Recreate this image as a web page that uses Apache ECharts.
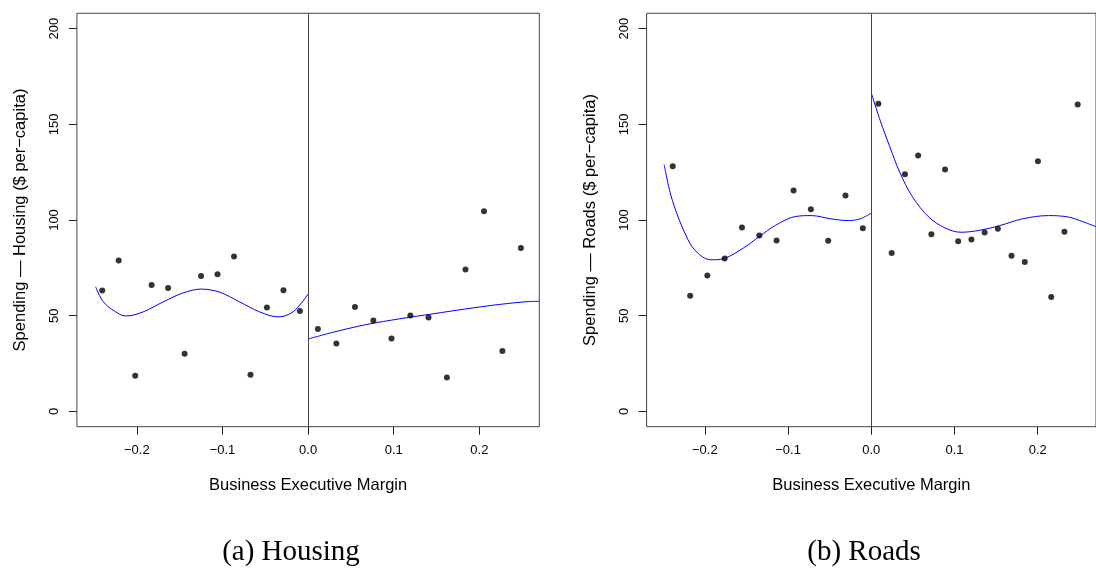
<!DOCTYPE html>
<html>
<head>
<meta charset="utf-8">
<script src="https://cdn.jsdelivr.net/npm/echarts@6/dist/echarts.min.js"></script>
<style>
  html, body { margin: 0; padding: 0; background: #fff; }
  #chart { width: 1096px; height: 573px; }
</style>
</head>
<body>
<div id="chart"></div>
<script>
// Tick positions shared by both panels
const xTicks = [-0.2, -0.1, 0.0, 0.1, 0.2];
const yTicks = [0, 50, 100, 150, 200];

// Housing: binned means on each side of the cutoff
const housingLeftX = [-0.2404, -0.2212, -0.2019, -0.1827, -0.1635, -0.1442, -0.1250, -0.1058, -0.0865, -0.0673, -0.0481, -0.0288, -0.0096];
const housingLeftY = [63.2, 78.8, 18.6, 66.1, 64.5, 30.1, 70.7, 71.7, 80.9, 19.1, 54.3, 63.3, 52.5];
const housingRightX = [0.0114, 0.0330, 0.0547, 0.0762, 0.0974, 0.1194, 0.1406, 0.1621, 0.1838, 0.2054, 0.2269, 0.2485];
const housingRightY = [43.0, 35.5, 54.5, 47.5, 38.1, 50.1, 49.1, 17.7, 74.1, 104.6, 31.5, 85.4];

// Housing: fitted polynomial on each side
const housingFitLeftX = [-0.2481, -0.2385, -0.2198, -0.2120, -0.1926, -0.1693, -0.1460, -0.1246, -0.1033, -0.0800, -0.0566, -0.0352, -0.0177, 0.0];
const housingFitLeftY = [65.1, 56.9, 50.7, 49.9, 52.0, 57.2, 61.9, 63.9, 62.3, 57.2, 52.0, 49.4, 52.0, 61.3];
const housingFitRightX = [0.0, 0.0296, 0.0685, 0.1073, 0.1462, 0.1850, 0.2239, 0.2589, 0.27];
const housingFitRightY = [37.8, 41.4, 45.4, 48.4, 51.0, 53.6, 55.9, 57.4, 57.5];

// Roads: binned means on each side of the cutoff
const roadsLeftX = [-0.2386, -0.2177, -0.1970, -0.1762, -0.1554, -0.1345, -0.1138, -0.0934, -0.0726, -0.0518, -0.0310, -0.0102];
const roadsLeftY = [128.1, 60.4, 71.0, 79.9, 96.1, 91.9, 89.3, 115.4, 105.6, 89.1, 112.8, 95.7];
const roadsRightX = [0.0085, 0.0245, 0.0404, 0.0563, 0.0722, 0.0886, 0.1044, 0.1203, 0.1362, 0.1521, 0.1685, 0.1844, 0.2002, 0.2162, 0.2321, 0.2480];
const roadsRightY = [160.8, 82.8, 123.9, 133.7, 92.6, 126.4, 88.9, 89.8, 93.5, 95.4, 81.3, 78.1, 130.7, 59.8, 93.8, 160.3];

// Roads: fitted polynomial on each side
const roadsFitLeftX = [-0.2489, -0.2391, -0.2204, -0.2080, -0.1925, -0.1769, -0.1536, -0.1341, -0.1147, -0.0914, -0.0719, -0.0485, -0.0272, -0.0135, 0.0];
const roadsFitLeftY = [129.0, 110.3, 89.8, 82.5, 79.2, 79.9, 85.4, 91.5, 97.3, 101.8, 102.3, 100.6, 99.7, 100.6, 103.6];
const roadsFitRightX = [0.0, 0.0106, 0.0223, 0.0340, 0.0495, 0.0690, 0.0883, 0.1078, 0.1312, 0.1545, 0.1817, 0.2128, 0.2362, 0.2549, 0.27];
const roadsFitRightY = [166.4, 152.1, 138.2, 125.1, 112.1, 101.6, 95.9, 93.6, 94.7, 97.1, 100.6, 102.3, 101.6, 99.0, 96.5];

const yTitles = ['Spending \u2014 Housing ($ per\u2212capita)', 'Spending \u2013\u2013 Roads ($ per\u2212capita)'];
const xTitle = 'Business Executive Margin';
const captions = ['(a) Housing', '(b) Roads'];

const pairs = (xs, ys) => xs.map((x, i) => [x, ys[i]]);
const sans = 'Liberation Sans, Arial, sans-serif';
const serif = '29px "Liberation Serif", "Times New Roman", serif';
const axisColor = '#222';

function grid(left) {
  return { left: left, top: 13.3, width: 462.4, height: 413.4, show: true,
           borderColor: '#444', borderWidth: 1, backgroundColor: 'transparent', containLabel: false };
}

function xAxis(idx) {
  return {
    type: 'value', gridIndex: idx, min: -0.27, max: 0.27, position: 'bottom',
    name: xTitle, nameLocation: 'middle', nameGap: 50,
    nameTextStyle: { fontFamily: sans, fontSize: 16.5, color: '#000' },
    axisLine: { show: false, onZero: false },
    splitLine: { show: false },
    axisTick: { show: true, inside: false, customValues: xTicks, length: 8, lineStyle: { color: axisColor } },
    axisLabel: { customValues: xTicks, margin: 17, fontFamily: sans, fontSize: 13, color: '#000',
                 formatter: v => v.toFixed(1).replace('-', '\u2212') }
  };
}

function yAxis(idx) {
  return {
    type: 'value', gridIndex: idx, min: -8, max: 208, position: 'left',
    name: yTitles[idx], nameLocation: 'middle', nameGap: 48, nameRotate: 90,
    nameTextStyle: { fontFamily: sans, fontSize: 16.5, color: '#000' },
    axisLine: { show: false, onZero: false },
    splitLine: { show: false },
    axisTick: { show: true, inside: false, customValues: yTicks, length: 8, lineStyle: { color: axisColor } },
    axisLabel: { customValues: yTicks, rotate: 90, margin: 16, fontFamily: sans, fontSize: 13, color: '#000' }
  };
}

function dots(idx, xs, ys, withCutoff) {
  const s = {
    type: 'scatter', xAxisIndex: idx, yAxisIndex: idx, data: pairs(xs, ys),
    symbol: 'circle', symbolSize: 6, itemStyle: { color: '#000' }, silent: true, z: 5
  };
  if (withCutoff) {
    s.markLine = { silent: true, symbol: 'none', label: { show: false },
                   lineStyle: { color: '#444', width: 1, type: 'solid' }, data: [{ xAxis: 0 }] };
  }
  return s;
}

function fit(idx, xs, ys) {
  return {
    type: 'line', xAxisIndex: idx, yAxisIndex: idx, data: pairs(xs, ys),
    showSymbol: false, smooth: 0.35, lineStyle: { color: '#0000ff', width: 1 }, silent: true, z: 4
  };
}

const chart = echarts.init(document.getElementById('chart'), null, { renderer: 'canvas' });
chart.setOption({
  animation: false,
  backgroundColor: '#fff',
  grid: [grid(76.9), grid(646.6)],
  xAxis: [xAxis(0), xAxis(1)],
  yAxis: [yAxis(0), yAxis(1)],
  series: [
    dots(0, housingLeftX, housingLeftY, true),
    dots(0, housingRightX, housingRightY, false),
    fit(0, housingFitLeftX, housingFitLeftY),
    fit(0, housingFitRightX, housingFitRightY),
    dots(1, roadsLeftX, roadsLeftY, true),
    dots(1, roadsRightX, roadsRightY, false),
    fit(1, roadsFitLeftX, roadsFitLeftY),
    fit(1, roadsFitRightX, roadsFitRightY)
  ],
  graphic: [
    { type: 'text', x: 291, y: 552, style: { text: captions[0], font: serif, fill: '#000', align: 'center', verticalAlign: 'middle' } },
    { type: 'text', x: 864, y: 552, style: { text: captions[1], font: serif, fill: '#000', align: 'center', verticalAlign: 'middle' } }
  ]
});
</script>
</body>
</html>
